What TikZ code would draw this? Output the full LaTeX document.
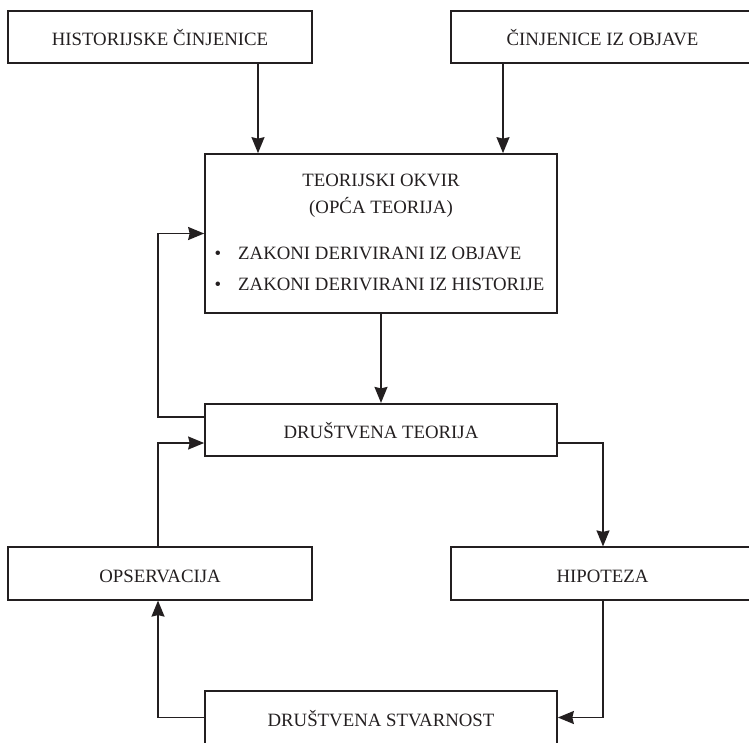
\documentclass[tikz,border=0pt]{standalone}
\usepackage{fontspec}
\setmainfont{Liberation Serif}
\usetikzlibrary{arrows.meta}
\definecolor{ink}{HTML}{231F20}

\begin{document}
\begin{tikzpicture}[x=1pt,y=-1pt,
  lbl/.style={font=\fontsize{18.8}{22}\selectfont, text=ink, inner sep=0pt},
  box/.style={lbl, draw=ink, line width=1.7pt, minimum width=#1,
    minimum height=52.5pt, text height=17pt, text depth=0pt},
  arr/.style={draw=ink, line width=1.6pt,
    -{Stealth[length=16pt,width=13pt,inset=1.5pt]}},
]
\useasboundingbox (0,0) rectangle (749,742);
\clip (0,0) rectangle (749,742);

% boxes
\node[box=304pt] (tl) at (160,37) {HISTORIJSKE ČINJENICE};
\node[box=303pt] (tr) at (602.5,37) {ČINJENICE IZ OBJAVE};
\node[box=352pt, minimum height=159pt] (main) at (381,233.5) {};
\node[box=352pt] (dt) at (381,430) {DRUŠTVENA TEORIJA};
\node[box=304pt] (ops) at (160,573.5) {OPSERVACIJA};
\node[box=303pt] (hip) at (602.5,573.5) {HIPOTEZA};
\node[box=352pt, minimum height=53pt] (ds) at (381,717.5) {DRUŠTVENA STVARNOST};

% contents of the framework box
\node[lbl, anchor=base] (t1) at (381,186) {TEORIJSKI OKVIR};
\node[lbl, anchor=base] (t2) at (381,213) {(OPĆA TEORIJA)};
\node[lbl, anchor=base] (b1) at (218,259) {•};
\node[lbl, anchor=base west] (l1) at (238,259) {ZAKONI DERIVIRANI IZ OBJAVE};
\node[lbl, anchor=base] (b2) at (218,290) {•};
\node[lbl, anchor=base west] (l2) at (238,290) {ZAKONI DERIVIRANI IZ HISTORIJE};

% routing columns
\coordinate (cA) at (258,0);
\coordinate (cB) at (503,0);
\coordinate (cL) at (158,0);
\coordinate (cR) at (603,0);

% connectors
\draw[arr] (tl.south -| cA) -- (main.north -| cA);
\draw[arr] (tr.south -| cB) -- (main.north -| cB);
\draw[arr] (main.south) -- (dt.north);
\draw[arr] ([yshift=13pt]dt.west) -| (cL |- main.west) -- (main.west);
\draw[arr] (ops.north -| cL) |- ([yshift=-13pt]dt.west);
\draw[arr] ([yshift=-13pt]dt.east) -| (hip.north -| cR);
\draw[arr] (hip.south -| cR) |- (ds.east);
\draw[arr] (ds.west) -| (ops.south -| cL);
\end{tikzpicture}
\end{document}
